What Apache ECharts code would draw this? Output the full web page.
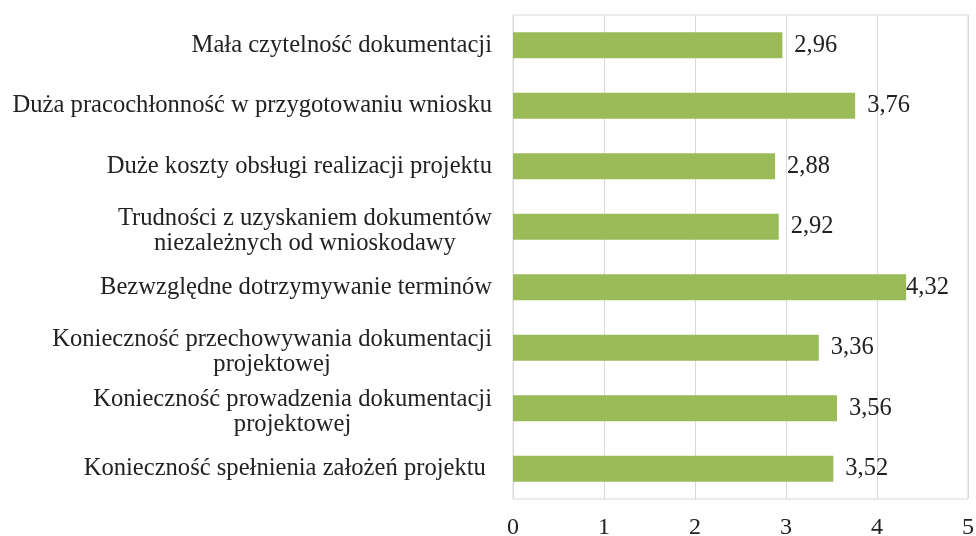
<!DOCTYPE html>
<html>
<head>
<meta charset="utf-8">
<script src="https://cdn.jsdelivr.net/npm/echarts@6/dist/echarts.min.js"></script>
<style>
html, body { margin: 0; padding: 0; background: #fff; }
#box1 { width: 976px; height: 536px; }
</style>
</head>
<body>
<div id="box1"></div>
<script>
var categories = [
    'Mała czytelność dokumentacji',
    'Duża pracochłonność w przygotowaniu wniosku',
    'Duże koszty obsługi realizacji projektu',
    'Trudności z uzyskaniem dokumentów\nniezależnych od wnioskodawy',
    'Bezwzględne dotrzymywanie terminów',
    'Konieczność przechowywania dokumentacji\nprojektowej',
    'Konieczność prowadzenia dokumentacji\nprojektowej',
    'Konieczność spełnienia założeń projektu '
]
var values = [2.96, 3.76, 2.88, 2.92, 4.32, 3.36, 3.56, 3.52]
var xTicks = [0, 1, 2, 3, 4, 5]

var font = '"Liberation Serif", "Times New Roman", serif'
var first = echarts.init(document.getElementById('box1'))
var option = {
    animation: false,
    grid: {
        left: 513,
        right: 8,
        top: 15,
        bottom: 37,
        outerBoundsMode: 'none',
        show: true,
        borderColor: '#d9d9d9',
        borderWidth: 1
    },
    xAxis: {
        type: 'value',
        min: xTicks[0],
        max: xTicks[xTicks.length - 1],
        interval: 1,
        axisLine: { show: false },
        axisTick: { show: false },
        splitLine: { lineStyle: { color: '#d9d9d9', width: 1 } },
        axisLabel: {
            margin: 17,
            color: '#222',
            fontFamily: font,
            fontSize: 24,
            formatter: function (v) { return String(v) }
        }
    },
    yAxis: {
        type: 'category',
        data: categories,
        inverse: true,
        axisLine: { show: false },
        axisTick: { show: false },
        axisLabel: {
            margin: 21,
            color: '#222',
            fontFamily: font,
            fontSize: 24.6,
            lineHeight: 25,
            formatter: function (v) {
                var lines = v.split('\n')
                var out = lines.map(function (s) { return '{c|' + s + '}' })
                // Excel pushes wrapped labels a bit lower
                if (lines.length > 1) out.unshift('{s| }')
                return out.join('\n')
            },
            rich: {
                c: { align: 'center', fontFamily: font, fontSize: 24.6, lineHeight: 25, color: '#222' },
                s: { fontSize: 6, lineHeight: 8 }
            }
        }
    },
    series: [
        {
            type: 'bar',
            data: values.map(function (v) {
                // label sits against the bar when it would run out of the plot
                return v > 4.2 ? { value: v, label: { distance: 0 } } : v
            }),
            barWidth: 26,
            itemStyle: { color: '#9bbb59' },
            label: {
                show: true,
                position: 'right',
                distance: 12,
                color: '#222',
                fontFamily: font,
                fontSize: 24.5,
                formatter: function (p) { return p.value.toFixed(2).replace('.', ',') }
            }
        }
    ]
}
first.setOption(option)
</script>
</body>
</html>
